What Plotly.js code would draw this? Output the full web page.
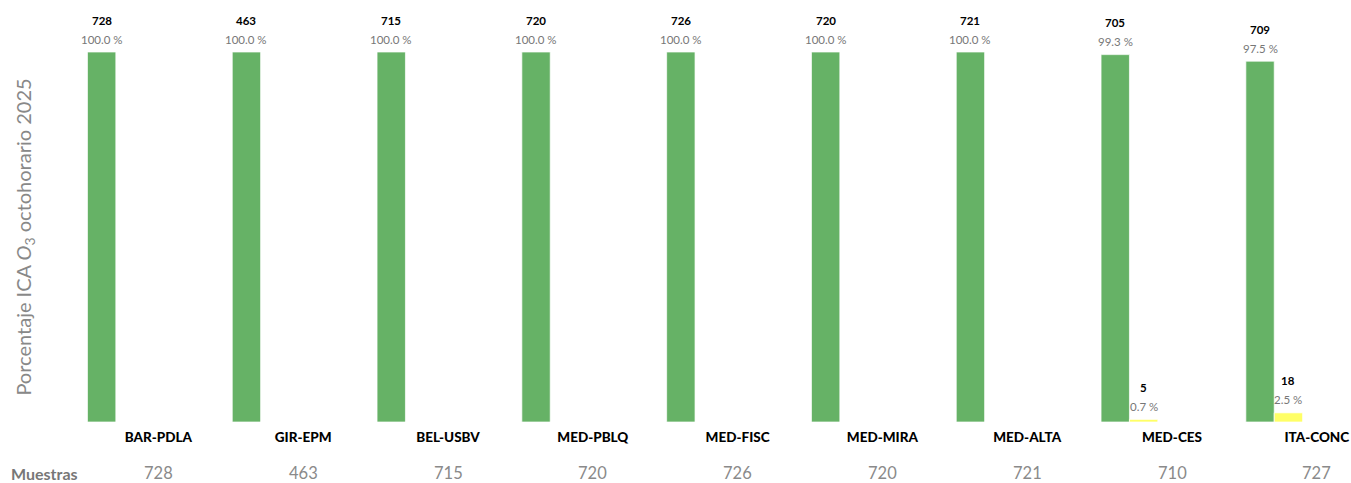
<!DOCTYPE html>
<html>
<head>
<meta charset="utf-8">
<script src="https://cdn.plot.ly/plotly-3.0.1.min.js"></script>
<style>html,body{margin:0;padding:0;background:#fff;}#chart{width:1351px;height:483px;}</style>
</head>
<body>
<div id="chart"></div>
<script>
const estaciones = ["BAR-PDLA","GIR-EPM","BEL-USBV","MED-PBLQ","MED-FISC","MED-MIRA","MED-ALTA","MED-CES","ITA-CONC"];
const buena = [728,463,715,720,726,720,721,705,709];
const aceptable = [0,0,0,0,0,0,0,5,18];
const daninaSensibles = [0,0,0,0,0,0,0,0,0];
const danina = [0,0,0,0,0,0,0,0,0];
const muyDanina = [0,0,0,0,0,0,0,0,0];
const muestras = [728,463,715,720,726,720,721,710,727];

const series = [
  {name:"Buena", counts:buena, color:"#66B266"},
  {name:"Aceptable", counts:aceptable, color:"#FFFF66"},
  {name:"Dañina a grupos sensibles", counts:daninaSensibles, color:"#FF9933"},
  {name:"Dañina", counts:danina, color:"#FF3333"},
  {name:"Muy dañina", counts:muyDanina, color:"#993399"}
];

const bargap = 0.02;
const nSeries = series.length;
const barW = (1 - bargap) / nSeries;

const traces = [];
const annotations = [];
series.forEach((s, k) => {
  const pct = s.counts.map((c, i) => 100 * c / muestras[i]);
  traces.push({
    type: "bar",
    name: s.name,
    x: estaciones.map((_, i) => i),
    y: pct,
    marker: {color: s.color, line: {color: "rgba(255,255,255,0.7)", width: 1}},
    hoverinfo: "none",
    showlegend: false
  });
  const off = (k - (nSeries - 1) / 2) * barW;
  s.counts.forEach((c, i) => {
    if (c > 0) {
      annotations.push({
        xref: "x", yref: "y", x: i + off, y: pct[i],
        text: pct[i].toFixed(1) + " %", showarrow: false,
        xanchor: "center", yanchor: "middle", yshift: 13,
        font: {family: "Lato", size: 11.5, color: "#777"}
      });
      annotations.push({
        xref: "x", yref: "y", x: i + off, y: pct[i],
        text: String(c), showarrow: false,
        xanchor: "center", yanchor: "middle", yshift: 32,
        font: {family: "Lato", size: 11.5, color: "#000", weight: 700}
      });
    }
  });
});

annotations.push({
  xref: "paper", yref: "paper", x: -0.0332, y: -0.138,
  text: "Muestras", showarrow: false, xanchor: "center", yanchor: "middle", borderpad: 0,
  font: {family: "Lato", size: 16, color: "#777", weight: 700}
});
muestras.forEach((m, i) => {
  annotations.push({
    xref: "x", yref: "paper", x: i, y: -0.138,
    text: String(m), showarrow: false, xanchor: "center", yanchor: "middle", borderpad: 0,
    font: {family: "Lato", size: 16.5, color: "#8a8a8a", weight: 400}
  });
});

const layout = {
  width: 1351, height: 483,
  margin: {l: 86, r: 0, t: 52, b: 61},
  paper_bgcolor: "#fff", plot_bgcolor: "#fff",
  barmode: "group", bargap: bargap, bargroupgap: 0,
  showlegend: false,
  xaxis: {
    tickmode: "array", tickvals: estaciones.map((_, i) => i), ticktext: estaciones,
    range: [-0.5, -0.5 + 1265 / 144.8],
    showgrid: false, zeroline: false, showline: false, ticks: "",
    ticklabelstandoff: 5, ticklabeloverflow: "allow",
    tickfont: {family: "Lato", size: 13.5, color: "#000", weight: 900}
  },
  yaxis: {
    range: [0, 100], showgrid: false, zeroline: false, showline: false,
    showticklabels: false, ticks: "",
    title: {text: "Porcentaje ICA <i>O</i><sub>3</sub> octohorario 2025", standoff: 48,
      font: {family: "Lato", size: 20, color: "#888"}}
  },
  annotations: annotations
};

Plotly.newPlot("chart", traces, layout, {displayModeBar: false, staticPlot: true});
</script>
</body>
</html>
